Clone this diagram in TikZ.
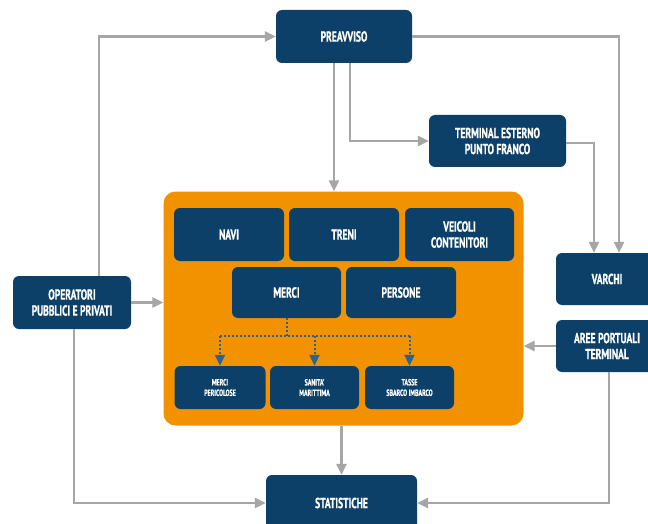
\documentclass[tikz,border=0pt]{standalone}
\usepackage{fontspec}
\usetikzlibrary{arrows.meta}
\newfontfamily\labelfont[FakeStretch=0.66,BoldFeatures={FakeBold=0.8}]{PT Sans}
\definecolor{portblue}{RGB}{12,64,104}
\definecolor{portorange}{RGB}{243,146,0}
\definecolor{linkgray}{RGB}{166,166,166}
\definecolor{dotblue}{RGB}{42,100,150}
\tikzset{
  bigbox/.style={fill=portblue,rounded corners=6pt,text=white,align=center,inner sep=0pt,
    font=\labelfont\bfseries\fontsize{14.5}{16}\selectfont},
  smallbox/.style={bigbox,font=\labelfont\bfseries\fontsize{9}{10.5}\selectfont},
  link/.style={draw=linkgray,line width=2.4pt,-{Triangle[length=11pt,width=10pt]}},
  dotlink/.style={draw=dotblue,line width=2pt,dash pattern=on 2pt off 2pt,-{Triangle[length=11pt,width=10pt]}}
}
\begin{document}
\begin{tikzpicture}[x=1pt,y=-1pt]
\clip (0,0) rectangle (648,524);
\fill[white] (0,0) rectangle (648,524);

% orange panel
\node[fill=portorange,rounded corners=12pt,minimum width=360pt,minimum height=234pt,inner sep=0pt] (panel) at (343.5,308.5) {};

\node[bigbox,minimum width=136pt,minimum height=53pt] (pre) at (344,36.5) {PREAVVISO};
\node[bigbox,minimum width=137pt,minimum height=52pt] (term) at (497.5,141) {TERMINAL ESTERNO\\PUNTO FRANCO};
\node[bigbox,minimum width=118pt,minimum height=53pt] (oper) at (72,302.5) {OPERATORI\\PUBBLICI E PRIVATI};
\node[bigbox,minimum width=102pt,minimum height=52pt] (varchi) at (607,279) {VARCHI};
\node[bigbox,minimum width=102pt,minimum height=52pt] (aree) at (607,346) {AREE PORTUALI\\TERMINAL};
\node[bigbox,minimum width=151pt,minimum height=56pt] (stat) at (341.5,503) {STATISTICHE};

\node[bigbox,minimum width=110pt,minimum height=53pt] (navi) at (229,234.5) {NAVI};
\node[bigbox,minimum width=110pt,minimum height=53pt] (treni) at (344,234.5) {TRENI};
\node[bigbox,minimum width=109pt,minimum height=53pt] (veicoli) at (459.5,234.5) {VEICOLI\\CONTENITORI};
\node[bigbox,minimum width=109pt,minimum height=51pt] (merci) at (286.5,292.5) {MERCI};
\node[bigbox,minimum width=110pt,minimum height=51pt] (persone) at (401,292.5) {PERSONE};

\node[smallbox,minimum width=91pt,minimum height=43pt] (peric) at (220,387.5) {MERCI\\PERICOLOSE};
\node[smallbox,minimum width=89pt,minimum height=43pt] (sanita) at (314.5,387.5) {SANITA'\\MARITTIMA};
\node[smallbox,minimum width=89pt,minimum height=43pt] (tasse) at (409.5,387.5) {TASSE\\SBARCO IMBARCO};

% connectors
\coordinate (predown) at ([xshift=-10pt]pre.south);
\draw[link] ([xshift=27pt]oper.north) |- (pre.west);
\draw[link] (pre.east) -| ([xshift=12pt]varchi.north);
\draw[link] (predown) -- (predown |- panel.north);
\draw[link] ([xshift=6pt]pre.south) |- (term.west);
\draw[link] ([yshift=-2pt]term.east) -| ([xshift=-13pt]varchi.north);
\draw[link] (oper.east) -- (panel.west |- oper.east);
\draw[link] (aree.west) -- (panel.east |- aree.west);
\draw[link] (panel.south -| stat.north) -- (stat.north);
\draw[link] ([xshift=2pt]oper.south) |- (stat.west);
\draw[link] ([xshift=2pt]aree.south) |- (stat.east);

% dotted split from MERCI
\coordinate (split) at ([yshift=-18pt]merci.south);
\draw[dotblue,line width=2pt,dash pattern=on 2pt off 2pt] (merci.south) -- (split);
\draw[dotblue,line width=2pt,dash pattern=on 2pt off 2pt] (split -| peric.north) -- (split -| tasse.north);
\draw[dotlink] (split -| peric.north) -- (peric.north);
\draw[dotlink] (split -| sanita.north) -- (sanita.north);
\draw[dotlink] (split -| tasse.north) -- (tasse.north);
\end{tikzpicture}
\end{document}
